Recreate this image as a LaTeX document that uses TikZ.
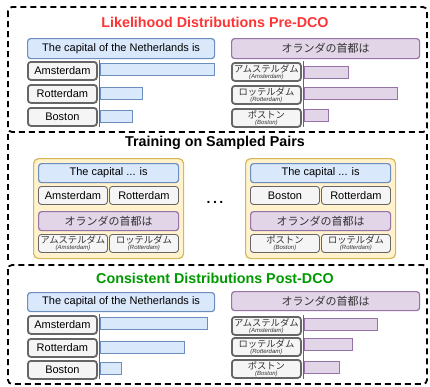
\documentclass[tikz,border=0pt]{standalone}
\usepackage{fontspec}
\setmainfont{Liberation Sans}
\newfontfamily\jpfont{Noto Sans CJK JP}
\definecolor{bluef}{HTML}{DAE8FC}
\definecolor{blued}{HTML}{6C8EBF}
\definecolor{purf}{HTML}{E1D5E7}
\definecolor{purd}{HTML}{9673A6}
\definecolor{grayf}{HTML}{F5F5F5}
\definecolor{grayd}{HTML}{666666}
\definecolor{yelf}{HTML}{FFF2CC}
\definecolor{yeld}{HTML}{D6B656}
\definecolor{titred}{HTML}{FF3333}
\definecolor{titgreen}{HTML}{009900}
\definecolor{jptext}{HTML}{333333}
\newcommand{\jplabel}[2]{{\jpfont\fontsize{9.3}{9}\selectfont #1}\\[-3pt]{\fontsize{6}{6}\selectfont\itshape #2}}
\begin{document}
\begin{tikzpicture}[x=1pt,y=-1pt,
  box/.style={anchor=north west, inner sep=0pt, rounded corners=3pt, text=black, font=\fontsize{11}{13}\selectfont},
  bluebox/.style={box, fill=bluef, draw=blued, line width=1.2pt},
  purplebox/.style={box, fill=purf, draw=purd, line width=1.2pt, text=jptext, font=\jpfont\fontsize{11}{13}\selectfont},
  lab/.style={box, fill=grayf, draw=grayd, line width=1.8pt, minimum width=69pt, minimum height=18pt},
  labthin/.style={lab, line width=0.9pt},
  jplab/.style={lab, align=center, text=jptext, font=\fontsize{9}{9}\selectfont},
  jplabthin/.style={jplab, line width=0.9pt},
  bar/.style={anchor=west, inner sep=0pt, minimum height=12pt, line width=1pt},
  bluebar/.style={bar, fill=bluef, draw=blued},
  purbar/.style={bar, fill=purf, draw=purd},
  axisline/.style={draw=grayd, line width=0.9pt},
  secline/.style={draw=black, dash pattern=on 6pt off 4pt, line width=1.8pt, rounded corners=4pt},
  grp/.style={fill=yelf, draw=yeld, line width=1.2pt, rounded corners=5pt, anchor=north west, inner sep=0pt, minimum width=150pt, minimum height=100pt},
  sectitle/.style={anchor=base, font=\bfseries\fontsize{14.3}{16}\selectfont}
]
\useasboundingbox (0,0) rectangle (430,386);

% section frames
\draw[secline] (8,7) rectangle (427,132);
\draw[secline] (8,265) rectangle (427,384);
\draw[secline] (8,134) -- (8,263);
\draw[secline] (427,134) -- (427,263);

% ===== Section 1 =====
\node[sectitle, text=titred] (t1) at (215,27) {Likelihood Distributions Pre-DCO};
\node[bluebox, minimum width=187pt, minimum height=20pt] (q1) at (27,38) {The capital of the Netherlands is};
\node[purplebox, minimum width=188pt, minimum height=20pt] (q1j) at (231,38) {オランダの首都は};

\node[lab] (l1a) at (27,61) {Amsterdam};
\node[lab] (l1r) at (27,84) {Rotterdam};
\node[lab] (l1b) at (27,107) {Boston};
\coordinate (x1t) at (99,60);
\coordinate (x1b) at (99,127);
\draw[axisline] (x1t) -- (x1b);
\node[bluebar, minimum width=114pt] (b1a) at (100,69) {};
\node[bluebar, minimum width=42pt] (b1r) at (100,93) {};
\node[bluebar, minimum width=32pt] (b1b) at (100,116) {};

\node[jplab] (j1a) at (231,62) {\jplabel{アムステルダム}{(Amsterdam)}};
\node[jplab] (j1r) at (231,85) {\jplabel{ロッテルダム}{(Rotterdam)}};
\node[jplab] (j1b) at (231,108) {\jplabel{ポストン}{(Boston)}};
\coordinate (y1t) at (303,61);
\coordinate (y1b) at (303,127);
\draw[axisline] (y1t) -- (y1b);
\node[purbar, minimum width=44pt] (c1a) at (304,72) {};
\node[purbar, minimum width=93pt] (c1r) at (304,93) {};
\node[purbar, minimum width=24pt] (c1b) at (304,115) {};

% ===== Section 2 =====
\node[sectitle, text=black] (t2) at (215,146) {Training on Sampled Pairs};

\node[grp] (g1) at (33,158) {};
\node[bluebox, minimum width=140pt, minimum height=19pt] (g1q) at (38,163) {The capital ... is};
\node[labthin] (g1a) at (38,186) {Amsterdam};
\node[labthin] (g1r) at (109,186) {Rotterdam};
\node[purplebox, minimum width=140pt, minimum height=19pt] (g1qj) at (38,211) {オランダの首都は};
\node[jplabthin] (g1aj) at (38,234) {\jplabel{アムステルダム}{(Amsterdam)}};
\node[jplabthin] (g1rj) at (109,234) {\jplabel{ロッテルダム}{(Rotterdam)}};

\node[anchor=base, font=\bfseries\fontsize{14}{16}\selectfont] (dots) at (215,203) {.\hspace{2.5pt}.\hspace{2.5pt}.};

\node[grp] (g2) at (245,158) {};
\node[bluebox, minimum width=140pt, minimum height=19pt] (g2q) at (250,163) {The capital ... is};
\node[labthin] (g2b) at (250,186) {Boston};
\node[labthin] (g2r) at (321,186) {Rotterdam};
\node[purplebox, minimum width=140pt, minimum height=19pt] (g2qj) at (250,211) {オランダの首都は};
\node[jplabthin] (g2bj) at (250,234) {\jplabel{ポストン}{(Boston)}};
\node[jplabthin] (g2rj) at (321,234) {\jplabel{ロッテルダム}{(Rotterdam)}};

% ===== Section 3 =====
\node[sectitle, text=titgreen] (t3) at (215,283) {Consistent Distributions Post-DCO};
\node[bluebox, minimum width=187pt, minimum height=19pt] (q3) at (27,292) {The capital of the Netherlands is};
\node[purplebox, minimum width=188pt, minimum height=19pt] (q3j) at (231,291) {オランダの首都は};

\node[lab] (l3a) at (27,315) {Amsterdam};
\node[lab] (l3r) at (27,338) {Rotterdam};
\node[lab] (l3b) at (27,360) {Boston};
\coordinate (x3t) at (99,314);
\coordinate (x3b) at (99,379);
\draw[axisline] (x3t) -- (x3b);
\node[bluebar, minimum width=107pt] (b3a) at (100,323) {};
\node[bluebar, minimum width=84pt] (b3r) at (100,347) {};
\node[bluebar, minimum width=21pt] (b3b) at (100,368) {};

\node[jplab] (j3a) at (231,316) {\jplabel{アムステルダム}{(Amsterdam)}};
\node[jplab] (j3r) at (231,337) {\jplabel{ロッテルダム}{(Rotterdam)}};
\node[jplab] (j3b) at (231,359) {\jplabel{ポストン}{(Boston)}};
\coordinate (y3t) at (303,315);
\coordinate (y3b) at (303,379);
\draw[axisline] (y3t) -- (y3b);
\node[purbar, minimum width=73pt] (c3a) at (304,324.5) {};
\node[purbar, minimum width=48pt] (c3r) at (304,344.5) {};
\node[purbar, minimum width=35pt] (c3b) at (304,367.5) {};
\end{tikzpicture}
\end{document}
